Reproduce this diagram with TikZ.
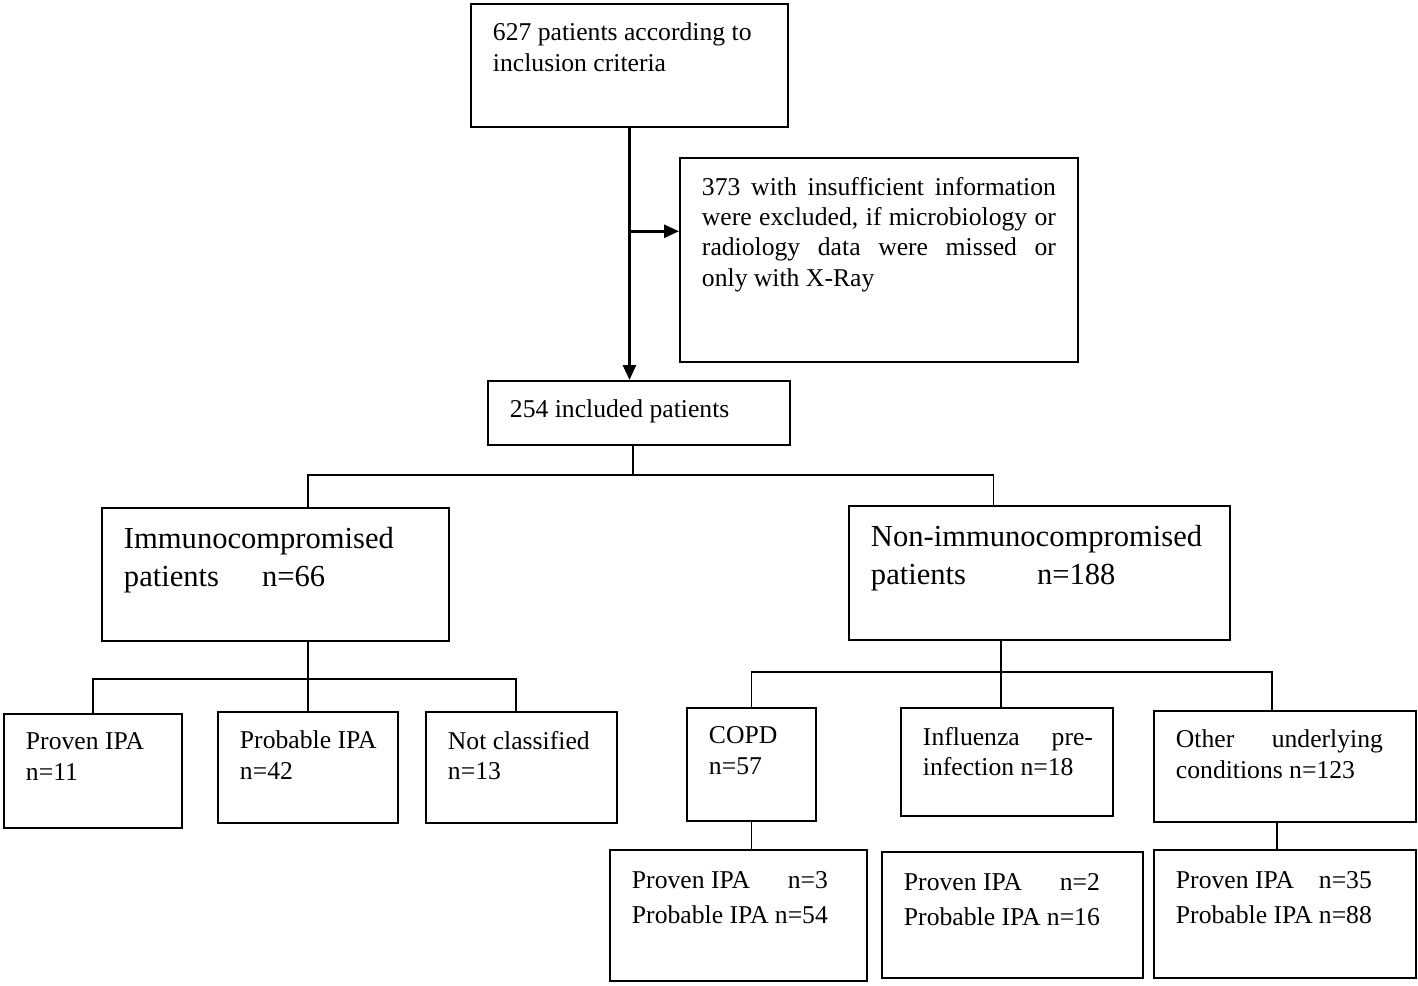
\documentclass[tikz,border=0pt]{standalone}
\usepackage{fontspec}
\setmainfont{Liberation Serif}
\usetikzlibrary{arrows.meta,calc}

\newlength{\pxu}
\setlength{\pxu}{0.02cm}
\newsavebox{\ipabox}
%% text of a box: [right margin]{width}{height}{text}, all in px
\newcommand{\bx}[4][10]{\parbox[t][\dimexpr#3\pxu-38\pxu\relax][t]{#2\pxu}{\leftskip=22\pxu\rightskip=#1\pxu\relax #4}}
\newcommand{\ipalines}[2]{\vspace*{3\pxu}\sbox{\ipabox}{Probable IPA n=#2}\makebox[\wd\ipabox][l]{Proven IPA\hfill n=#1}\\[2.3pt]\usebox{\ipabox}}

\tikzset{
  box/.style={draw, line width=1.1pt, inner xsep=0pt, inner ysep=0.38cm, anchor=north west,
    font=\fontsize{14.6}{17.3}\selectfont},
  bigbox/.style={box, font=\fontsize{17.4}{21.6}\selectfont},
  link/.style={line width=1.1pt},
  arrow/.style={line width=1.5pt, -{Triangle[length=0.3cm,width=0.26cm]}}
}

\begin{document}
\begin{tikzpicture}[x=0.02cm, y=-0.02cm]
\useasboundingbox (0,0) rectangle (1418,986);
\node[box] (start) at (470,3) {\bx{317}{123}{627 patients according to\\ inclusion criteria}};
\node[box] (excl) at (679,157) {\bx[22]{398}{204}{373 with insufficient information\linebreak were excluded, if microbiology or\linebreak radiology data were missed or\linebreak only with X-Ray}};
\node[box] (incl) at (487,380) {\bx{302}{64}{254 included patients}};
\draw[arrow] (start.south) -- (start.south |- incl.north);
\path (start.south) -- (start.south |- incl.north) coordinate[pos=0.41] (split);
\draw[arrow] (split) -- (split -| excl.west);
 %% two groups
\node[bigbox] (immuno) at (101,507) {\bx{347}{133}{Immunocompromised\\ patients\hspace{0.86cm}n=66}};
\node[bigbox] (nonimm) at (848,505) {\bx{381}{134}{Non-immunocompromised\\ patients\hspace{1.42cm}n=188}};
\coordinate (inclbot) at ($(incl.south west)!0.48!(incl.south east)$);
\coordinate (imtop) at ($(immuno.north west)!0.594!(immuno.north east)$);
\coordinate (imbot) at ($(immuno.south west)!0.594!(immuno.south east)$);
\coordinate (nontop) at ($(nonimm.north west)!0.38!(nonimm.north east)$);
\coordinate (nonbot) at ($(nonimm.south west)!0.40!(nonimm.south east)$);
\draw[link] (inclbot) -- ++(0,29) coordinate (bus);
\draw[link] (imtop) |- (bus) -| (nontop);
 %% immunocompromised
\node[box] (proven) at (3,713) {\bx{178}{114}{Proven IPA\\ n=11}};
\node[box] (probable) at (217,711) {\bx{180}{111}{Probable IPA\\ n=42}};
\node[box] (notcl) at (425,711) {\bx[6]{191}{111}{Not classified\\ n=13}};
\coordinate (notcltop) at ($(notcl.north west)!0.47!(notcl.north east)$);
\path (imbot) -- ++(0,37) coordinate (imbus);
\draw[link] (imbot) -- (imbot |- probable.north);
\draw[link] (proven.north) |- (imbus) -| (notcltop);
 %% non-immunocompromised
\node[box] (copd) at (686,707) {\bx{129}{113}{COPD\\ n=57}};
\node[box] (infl) at (900,707) {\bx[20]{212}{108}{Influenza pre-\linebreak infection n=18}};
\node[box] (other) at (1153,710) {\bx[33]{262}{111}{Other underlying\linebreak conditions n=123}};
\coordinate (othertop) at ($(other.north west)!0.45!(other.north east)$);
\coordinate (otherbot) at ($(other.south west)!0.47!(other.south east)$);
\path (nonbot) -- ++(0,31) coordinate (nonbus);
\draw[link] (nonbot) -- (nonbot |- infl.north);
\draw[link] (copd.north) |- (nonbus) -| (othertop);
\node[box] (copdsub) at (609,849) {\bx{257}{131}{\ipalines{3}{54}}};
\node[box] (inflsub) at (881,851) {\bx{261}{126}{\ipalines{2}{16}}};
\node[box] (othersub) at (1153,849) {\bx{262}{128}{\ipalines{35}{88}}};
\draw[link] (copd.south) -- (copd.south |- copdsub.north);
\draw[link] (otherbot) -- (otherbot |- othersub.north);
\end{tikzpicture}
\end{document}
